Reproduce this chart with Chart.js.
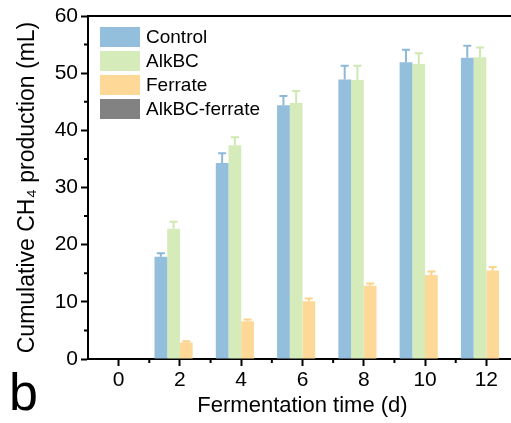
<!DOCTYPE html>
<html>
<head>
<meta charset="utf-8">
<script src="https://cdn.jsdelivr.net/npm/chart.js@4"></script>
<style>
  html, body { margin: 0; padding: 0; background: #fff; overflow: hidden; }
  canvas { display: block; }
</style>
</head>
<body>
<canvas id="barChart" width="522" height="423"></canvas>
<script>
// data
const days = ["0", "2", "4", "6", "8", "10", "12"];
const control = [0, 17.9, 34.3, 44.4, 48.9, 51.9, 52.7];
const controlErr = [0, 0.6, 1.7, 1.6, 2.4, 2.2, 2.1];
const alkbc = [0, 22.8, 37.4, 44.8, 48.8, 51.6, 52.8];
const alkbcErr = [0, 1.2, 1.4, 2.1, 2.5, 1.9, 1.7];
const ferrate = [0, 2.9, 6.6, 10.1, 12.8, 14.7, 15.5];
const ferrateErr = [0, 0.2, 0.3, 0.5, 0.4, 0.6, 0.6];
const alkbcFerrate = [0, 0, 0, 0, 0, 0, 0];
const yTicks = [0, 10, 20, 30, 40, 50, 60];

const FONT = "Arial, 'Liberation Sans', sans-serif";

// error bars (upper only)
const errorBars = {
  id: "errorBars",
  afterDatasetsDraw(chart) {
    const ctx = chart.ctx;
    const y = chart.scales.y;
    chart.data.datasets.forEach((ds, di) => {
      if (!ds.err) return;
      const meta = chart.getDatasetMeta(di);
      meta.data.forEach((bar, i) => {
        const e = ds.err[i];
        if (!e) return;
        const top = y.getPixelForValue(ds.data[i] + e);
        ctx.save();
        ctx.strokeStyle = ds.errColor;
        ctx.lineWidth = 2;
        ctx.beginPath();
        ctx.moveTo(bar.x, bar.y);
        ctx.lineTo(bar.x, top);
        ctx.moveTo(bar.x - 4, top);
        ctx.lineTo(bar.x + 4, top);
        ctx.stroke();
        ctx.restore();
      });
    });
  },
};

// frame, minor ticks, legend, panel letter
const decorations = {
  id: "decorations",
  afterDraw(chart) {
    const ctx = chart.ctx;
    const a = chart.chartArea;
    const x = chart.scales.x;
    const y = chart.scales.y;
    ctx.save();
    ctx.strokeStyle = "#000";
    ctx.lineWidth = 2;
    ctx.beginPath();
    ctx.moveTo(a.left - 1, a.top);
    ctx.lineTo(a.right, a.top);
    ctx.lineTo(a.right, a.bottom);
    ctx.stroke();

    // minor ticks
    ctx.lineWidth = 2;
    ctx.beginPath();
    for (let v = 5; v < 60; v += 10) {
      const py = y.getPixelForValue(v);
      ctx.moveTo(a.left, py);
      ctx.lineTo(a.left - 4, py);
    }
    for (let i = 1; i < days.length; i++) {
      const px = (x.getPixelForValue(i - 1) + x.getPixelForValue(i)) / 2;
      ctx.moveTo(px, a.bottom);
      ctx.lineTo(px, a.bottom + 4);
    }
    ctx.stroke();

    // legend
    ctx.font = "19px " + FONT;
    ctx.textBaseline = "middle";
    ctx.textAlign = "left";
    chart.data.datasets.forEach((ds, i) => {
      const top = 27 + i * 24;
      ctx.fillStyle = ds.backgroundColor;
      ctx.fillRect(100, top, 40, 20);
      ctx.fillStyle = "#000";
      ctx.fillText(ds.label, 146, top + 11);
    });

    // panel letter
    ctx.font = "52px " + FONT;
    ctx.textBaseline = "alphabetic";
    ctx.fillText("b", 9, 410);
    ctx.restore();
  },
};

const ctx = document.getElementById("barChart").getContext("2d");
const myChart = new Chart(ctx, {
  type: "bar",
  data: {
    labels: days,
    datasets: [
      { label: "Control", data: control, err: controlErr, backgroundColor: "#93BEDC", errColor: "#8DB8D8" },
      { label: "AlkBC", data: alkbc, err: alkbcErr, backgroundColor: "#D5ECBA", errColor: "#CFE8B2" },
      { label: "Ferrate", data: ferrate, err: ferrateErr, backgroundColor: "#FDD896", errColor: "#FBD38C" },
      { label: "AlkBC-ferrate", data: alkbcFerrate, backgroundColor: "#828282" },
    ],
  },
  options: {
    responsive: false,
    animation: false,
    devicePixelRatio: 1,
    borderWidth: 0,
    barPercentage: 1,
    categoryPercentage: 0.83,
    layout: { padding: { top: 16, right: 5, left: 0, bottom: 0 } },
    plugins: {
      legend: { display: false },
      tooltip: { enabled: false },
    },
    scales: {
      x: {
        grid: {
          offset: false,
          drawOnChartArea: false,
          tickLength: 7,
          tickWidth: 2,
          tickColor: "#000",
        },
        border: { color: "#000", width: 2 },
        ticks: {
          color: "#000",
          font: { family: FONT, size: 21 },
          padding: 2,
          maxRotation: 0,
        },
        title: {
          display: true,
          text: "Fermentation time (d)",
          color: "#000",
          font: { family: FONT, size: 22 },
          padding: { top: 0, bottom: 4 },
        },
        afterFit: (scale) => {
          scale.height = 64;
        },
      },
      y: {
        min: 0,
        max: 60,
        grid: {
          drawOnChartArea: false,
          tickLength: 7,
          tickWidth: 2,
          tickColor: "#000",
        },
        border: { color: "#000", width: 2 },
        ticks: {
          color: "#000",
          font: { family: FONT, size: 21 },
          padding: 3,
          stepSize: 10,
          callback: (v) => (yTicks.includes(v) ? v : ""),
        },
        title: {
          display: true,
          text: "Cumulative CH\u2084 production (mL)",
          color: "#000",
          font: { family: FONT, size: 23 },
          padding: { top: 14, bottom: 0 },
        },
        afterFit: (scale) => {
          scale.width = 88;
        },
      },
    },
  },
  plugins: [errorBars, decorations],
});
</script>
</body>
</html>
